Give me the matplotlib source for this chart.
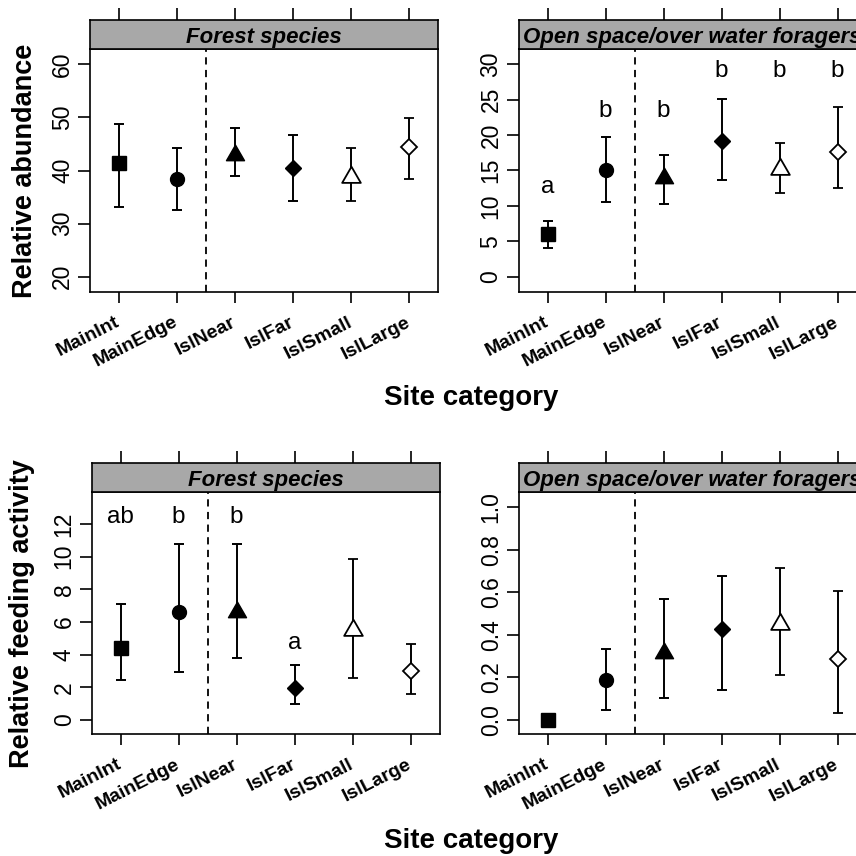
"""Relative abundance / feeding activity by site category, two guilds."""
import matplotlib

matplotlib.use("Agg")
import matplotlib.pyplot as plt
from matplotlib.path import Path

plt.rcParams["font.family"] = ["Liberation Sans", "DejaVu Sans"]

categories = ["MainInt", "MainEdge", "IslNear", "IslFar", "IslSmall", "IslLarge"]

# relative abundance, forest species
abund_forest_mean = [41.4, 38.4, 43.0, 40.4, 38.8, 44.5]
abund_forest_lo = [33.1, 32.5, 38.9, 34.3, 34.3, 38.4]
abund_forest_hi = [48.7, 44.2, 48.0, 46.7, 44.2, 49.9]

# relative abundance, open space / over water foragers
abund_open_mean = [6.0, 15.1, 13.9, 19.2, 15.25, 17.6]
abund_open_lo = [4.0, 10.55, 10.3, 13.7, 11.8, 12.5]
abund_open_hi = [7.9, 19.7, 17.2, 25.1, 18.9, 23.9]
abund_open_letters = ["a", "b", "b", "b", "b", "b"]
abund_open_letter_y = [12.7, 23.4, 23.4, 29.0, 29.0, 29.0]

# relative feeding activity, forest species
feed_forest_mean = [4.43, 6.63, 6.6, 1.94, 5.53, 3.02]
feed_forest_lo = [2.45, 2.96, 3.82, 1.0, 2.59, 1.59]
feed_forest_hi = [7.08, 10.78, 10.78, 3.39, 9.88, 4.63]
feed_forest_letters = ["ab", "b", "b", "a", "", ""]
feed_forest_letter_y = [12.45, 12.45, 12.45, 4.73, 0, 0]

# relative feeding activity, open space / over water foragers
feed_open_mean = [0.0, 0.19, 0.315, 0.428, 0.453, 0.285]
feed_open_lo = [0.0, 0.047, 0.105, 0.143, 0.213, 0.034]
feed_open_hi = [0.0, 0.334, 0.57, 0.679, 0.715, 0.608]

W = H = 856
fig = plt.figure(figsize=(W / 100, H / 100), dpi=100)

# triangle with its centroid on the data point (like R's pch 17 / 2)
TRI = Path([(0, 1), (-0.866, -0.5), (0.866, -0.5), (0, 1)],
           [Path.MOVETO, Path.LINETO, Path.LINETO, Path.CLOSEPOLY])
MARKERS = [
    dict(marker="s", ms=10, mfc="black", mec="black"),
    dict(marker="o", ms=10, mfc="black", mec="black"),
    dict(marker=TRI, ms=15, mfc="black", mec="black"),
    dict(marker="D", ms=8, mfc="black", mec="black"),
    dict(marker=TRI, ms=15.5, mfc="white", mec="black", mew=1.3),
    dict(marker="D", ms=8.3, mfc="white", mec="black", mew=1.3),
]


def px_axes(left, top, right, bottom):
    return fig.add_axes([left / W, 1 - bottom / H, (right - left) / W, (bottom - top) / H])


def panel(left, top, right, bottom, strip_top, title, mean, lo, hi, ylim, yticks,
          yfmt="{:g}", letters=None, letter_y=None):
    ax = px_axes(left, top, right, bottom)
    x = list(range(1, len(categories) + 1))
    for i in range(len(categories)):
        ax.errorbar(x[i], mean[i], yerr=[[mean[i] - lo[i]], [hi[i] - mean[i]]],
                    color="black", elinewidth=1.4, capsize=3.3, capthick=1.4,
                    linestyle="none", zorder=3, **MARKERS[i])
    ax.axvline(2.5, color="black", lw=1.3, dashes=(4, 3))
    if letters:
        for xi, t, yy in zip(x, letters, letter_y):
            if t:
                ax.text(xi, yy, t, ha="center", va="center", fontsize=17.5)
    ax.set_xlim(0.5, len(categories) + 0.5)
    ax.set_ylim(*ylim)
    ax.set_xticks(x)
    ax.set_xticklabels(categories, rotation=27, ha="right", va="center",
                       rotation_mode="anchor", fontweight="bold", fontsize=14)
    ax.set_yticks(yticks)
    ax.set_yticklabels([yfmt.format(v) for v in yticks], rotation=90,
                       va="center", fontsize=16.5)
    ax.tick_params(axis="x", length=8, width=1.2, pad=13)
    ax.tick_params(axis="y", length=8.5, width=1.2, pad=3)
    for s in ax.spines.values():
        s.set_linewidth(1.2)

    st = px_axes(left, strip_top, right, top)
    st.set_facecolor("#a8a8a8")
    st.set_xlim(0.5, len(categories) + 0.5)
    st.set_ylim(0, 1)
    st.set_xticks(x)
    st.set_yticks([])
    st.tick_params(axis="x", top=True, bottom=False, labeltop=False,
                   labelbottom=False, length=8.6, width=1.2)
    for s in st.spines.values():
        s.set_linewidth(1.2)
    st.text(0.5, 0.5, title, transform=st.transAxes, ha="center", va="center_baseline",
            fontsize=16, fontweight="bold", fontstyle="italic")
    return ax


panel(90, 49, 438, 292, 20, "Forest species",
      abund_forest_mean, abund_forest_lo, abund_forest_hi,
      (17.1, 62.9), [20, 30, 40, 50, 60])
panel(518.5, 49, 866.5, 292, 20, "Open space/over water foragers",
      abund_open_mean, abund_open_lo, abund_open_hi,
      (-2.16, 32.16), [0, 5, 10, 15, 20, 25, 30],
      letters=abund_open_letters, letter_y=abund_open_letter_y)
panel(91.7, 492.3, 439.7, 734.3, 463.3, "Forest species",
      feed_forest_mean, feed_forest_lo, feed_forest_hi,
      (-0.875, 13.94), [0, 2, 4, 6, 8, 10, 12],
      letters=feed_forest_letters, letter_y=feed_forest_letter_y)
panel(518.7, 492.3, 866.7, 734.3, 463.3, "Open space/over water foragers",
      feed_open_mean, feed_open_lo, feed_open_hi,
      (-0.0674, 1.0705), [0.0, 0.2, 0.4, 0.6, 0.8, 1.0], yfmt="{:.1f}")

fig.text(25 / W, 1 - 171 / H, "Relative abundance", rotation=90, ha="center",
         va="center", fontsize=19.5, fontweight="bold")
fig.text(22 / W, 1 - 614 / H, "Relative feeding activity", rotation=90, ha="center",
         va="center", fontsize=19.5, fontweight="bold")
fig.text(471 / W, 1 - 405 / H, "Site category", ha="center", va="baseline",
         fontsize=20, fontweight="bold")
fig.text(471 / W, 1 - 848 / H, "Site category", ha="center", va="baseline",
         fontsize=20, fontweight="bold")

fig.savefig("out.png", dpi=100)
